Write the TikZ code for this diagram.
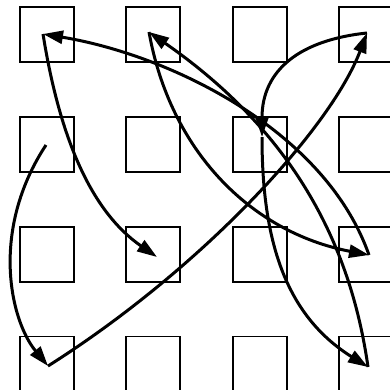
\documentclass[tikz,border=0pt]{standalone}
\usetikzlibrary{arrows.meta}
\tikzset{
  sq/.style={draw=black, line width=1.8pt, minimum width=54pt, minimum height=55pt, inner sep=0pt, outer sep=0pt},
  conn/.style={draw=black, line width=3pt, -{Triangle[length=20pt,width=13pt]}}
}
\begin{document}
\begin{tikzpicture}[x=1pt,y=-1pt]
\useasboundingbox (0,0) rectangle (390,389);
\clip (0,0) rectangle (390,389);
\fill[white] (0,0) rectangle (390,389);
% squares
\foreach \c/\cx in {1/47,2/153.3,3/259.6,4/366}{
  \foreach \r/\ry in {1/34.8,2/144.5,3/254.2,4/363.9}{
    \node[sq] (s\r\c) at (\cx,\ry) {};
  }
}
% anchor points
\coordinate (p11) at (43,34);
\coordinate (p12) at (149,32);
\coordinate (p14) at (367,33);
\coordinate (p21) at (46,145);
\coordinate (p23) at (262,137);
\coordinate (p32) at (157,257);
\coordinate (p34) at (369,255);
\coordinate (p41) at (48,366);
\coordinate (p44) at (368,367);
% connectors
\draw[conn] (p21) .. controls (-10,230) and (10,320) .. (p41);
\draw[conn] (p41) .. controls (200,270) and (330,130) .. (p14);
\draw[conn] (p11) .. controls (60,140) and (92,212) .. (p32);
\draw[conn] (p14) .. controls (300,40) and (262,70) .. (p23);
\draw[conn] (p23) .. controls (262,240) and (285,315) .. (p44);
\draw[conn] (p12) .. controls (170,150) and (250,232) .. (p34);
\draw[conn] (p34) .. controls (325,130) and (170,55) .. (p11);
\draw[conn] (p44) .. controls (350,240) and (290,130) .. (p12);
\end{tikzpicture}
\end{document}
